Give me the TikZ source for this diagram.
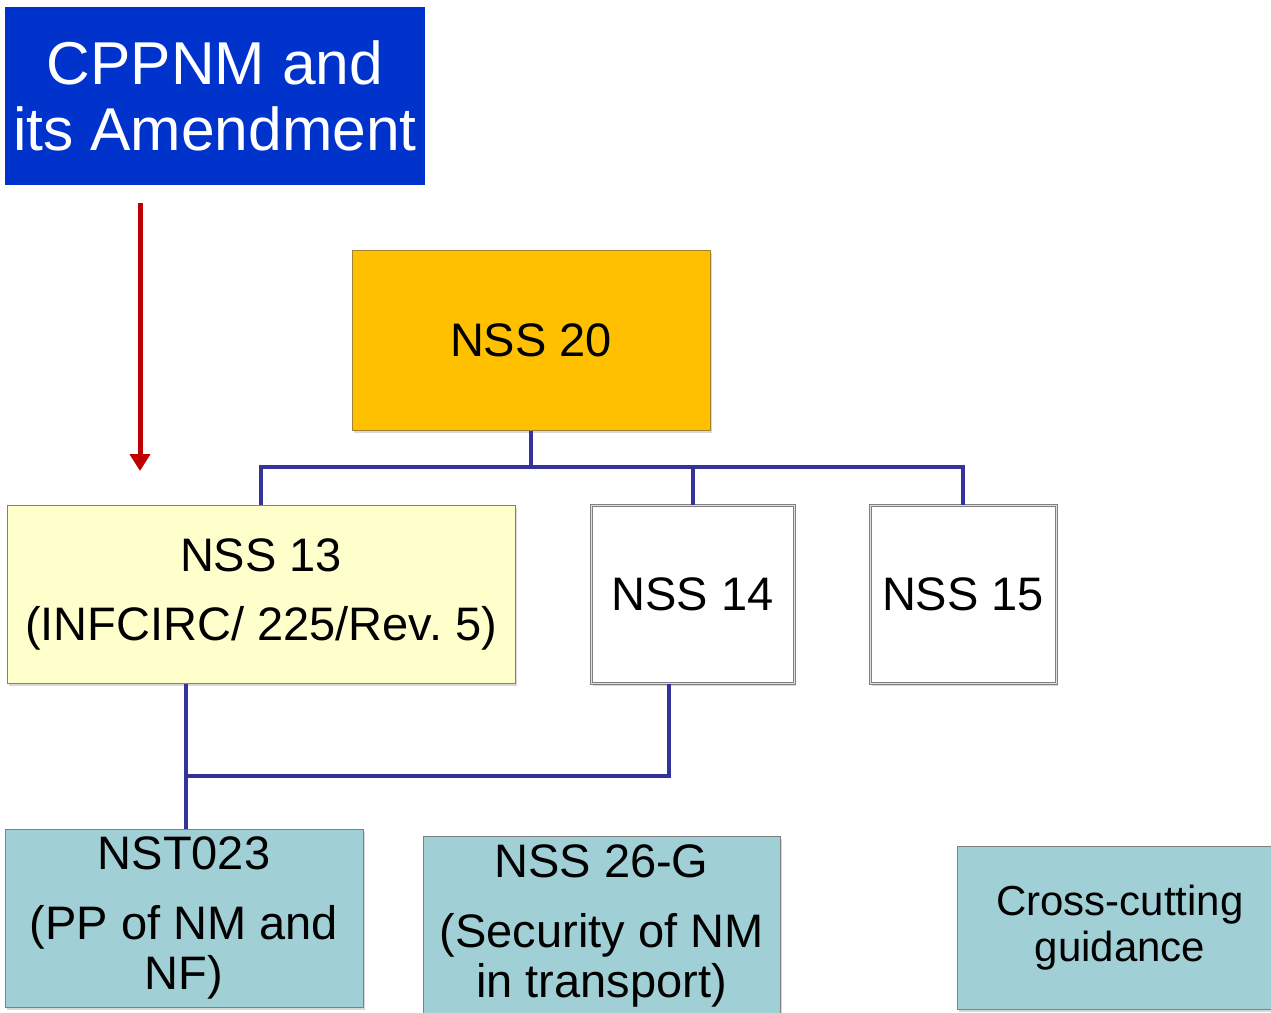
\documentclass[tikz,border=0pt]{standalone}
\usepackage{fontspec}
\setmainfont{Liberation Sans}
\usetikzlibrary{arrows.meta,shadows}
\definecolor{cppblue}{HTML}{0033CC}
\definecolor{gold}{HTML}{FFC000}
\definecolor{goldborder}{HTML}{A08232}
\definecolor{paleyellow}{HTML}{FFFFCC}
\definecolor{teal}{HTML}{A0D0D6}
\definecolor{linkblue}{HTML}{333399}
\definecolor{arrowred}{HTML}{C00000}
\frenchspacing
\tikzset{
  box/.style={rectangle, inner sep=0pt, align=center, text=black},
  shade3/.style={drop shadow={opacity=0.3, shadow xshift=2pt, shadow yshift=-3pt}},
  link/.style={draw=linkblue, line width=4pt},
  bigtxt/.style={font=\fontsize{47}{50}\selectfont},
}
\begin{document}
\begin{tikzpicture}[x=1pt,y=-1pt]
\useasboundingbox (0,0) rectangle (1271,1012);
\clip (0,0) rectangle (1271,1012);
\fill[white] (0,0) rectangle (1271,1012);

\node[box, fill=cppblue, text=white, minimum width=420pt, minimum height=178pt,
  font=\fontsize{60.5}{66}\selectfont] (cppnm) at (215,96) {CPPNM and\\its Amendment};

\node[box, shade3, fill=gold, draw=goldborder, line width=1pt, minimum width=358pt, minimum height=180pt, bigtxt] (nss20) at (531,340) {NSS 20};

\node[box, shade3, fill=paleyellow, draw=gray, line width=1pt, minimum width=508pt, minimum height=178pt, bigtxt] (nss13) at (261,594) {NSS 13\\[19pt](INFCIRC/ 225/Rev.\ 5)};

\node[box, shade3, fill=white, draw=gray, double=gray!25, double distance=1pt, line width=1pt, minimum width=203pt, minimum height=178pt, bigtxt] (nss14) at (692.5,594) {NSS 14};

\node[box, shade3, fill=white, draw=gray, double=gray!25, double distance=1pt, line width=1pt, minimum width=186pt, minimum height=178pt, bigtxt] (nss15) at (963,594) {NSS 15};

\node[box, shade3, fill=teal, draw=gray, line width=1pt, minimum width=358pt, minimum height=178pt, bigtxt] (nst023) at (184,918) {NST023\\[20pt](PP of NM and\\NF)};

\node[box, shade3, fill=teal, draw=gray, line width=1pt, minimum width=357pt, minimum height=179pt, bigtxt] (nss26) at (601.5,925.5) {NSS 26-G\\[20pt](Security of NM\\in transport)};

\node[box, shade3, fill=teal, draw=gray, line width=1pt, minimum width=326pt, minimum height=163pt, font=\fontsize{42}{46}\selectfont] (cross) at (1120,927.5) {Cross-cutting\\guidance};

% connectors
\coordinate (bus) at (531,467);
\draw[link] (nss20.south) -- (bus);
\draw[link] (bus) -| (nss13.north);
\draw[link] (bus) -| (nss14.north);
\draw[link] (bus) -| (nss15.north);

\coordinate (j14) at (669,776);
\coordinate (j13) at (186,776);
\draw[link] (nss14.south -| j14) -- (j14) -- (j13);
\draw[link] (nss13.south -| j13) -- (j13) -- (nst023.north -| j13);

% red arrow
\coordinate (rstart) at (140,203);
\coordinate (rend) at (140,471);
\draw[draw=arrowred, line width=5pt, -{Triangle[width=20pt,length=17pt]}] (rstart) -- (rend);
\end{tikzpicture}
\end{document}
